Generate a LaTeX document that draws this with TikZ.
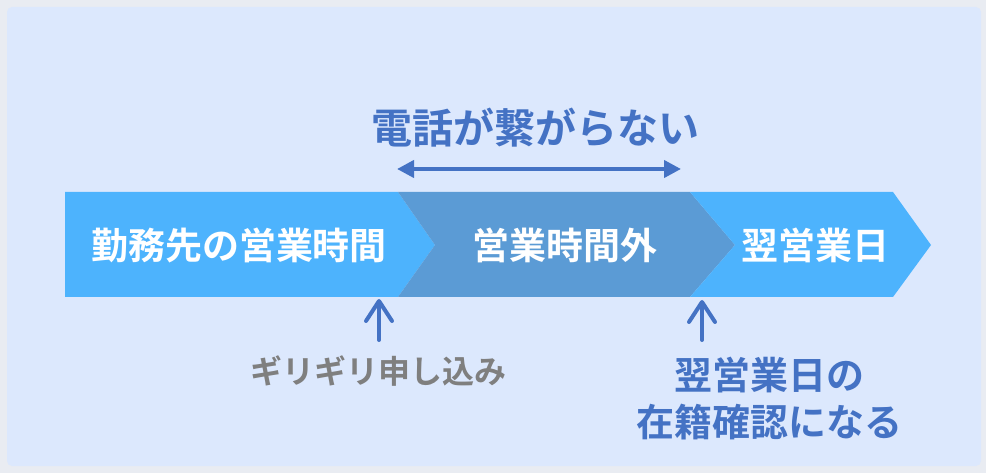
\documentclass[tikz,border=0pt]{standalone}
\usepackage{fontspec}
\setmainfont{Noto Sans CJK JP}[BoldFont={Noto Sans CJK JP Bold}]
\usetikzlibrary{arrows.meta}
\definecolor{outerbg}{HTML}{E9ECF2}
\definecolor{innerbg}{HTML}{DCE8FD}
\definecolor{lightc}{HTML}{4DB3FD}
\definecolor{midc}{HTML}{5B9BD5}
\definecolor{callblue}{HTML}{4472C4}
\definecolor{notegray}{HTML}{7F7F7F}
\tikzset{
  boxtext/.style={text=white, font=\bfseries\fontsize{37}{40}\selectfont, inner sep=0pt},
  notetext/.style={inner sep=0pt, align=center},
  uparrow/.style={callblue, line width=4pt, line cap=round, -{Straight Barb[round,length=20pt,width=26pt]}}
}
\begin{document}
\begin{tikzpicture}[x=1pt, y=-1pt]
  % background
  \fill[outerbg] (0, 0) rectangle (986, 473);
  \fill[innerbg, rounded corners=5pt] (7, 7) rectangle (981, 466);
  % chevrons
  \fill[lightc] (65, 192) -- (398, 192) -- (435, 245) -- (398, 297) -- (65, 297) -- cycle;
  \fill[midc] (398, 192) -- (690, 192) -- (735, 245) -- (690, 297) -- (398, 297) -- (435, 245) -- cycle;
  \fill[lightc] (690, 192) -- (893, 192) -- (931, 245) -- (893, 297) -- (690, 297) -- (735, 245) -- cycle;
  \node[boxtext] (work) at (239, 245) {勤務先の営業時間};
  \node[boxtext] (after) at (565, 245) {営業時間外};
  \node[boxtext] (next) at (815, 245) {翌営業日};
  % top: no call
  \node[text=callblue, font=\bfseries\fontsize{41}{44}\selectfont, inner sep=0pt] (nocall) at (535, 128) {電話が繋がらない};
  \coordinate (callL) at (397, 169);
  \coordinate (callR) at (681, 169);
  \draw[callblue, line width=4pt, {Triangle[length=17pt,width=17pt]}-{Triangle[length=17pt,width=17pt]}] (callL) -- (callR);
  % bottom notes
  \node[notetext, text=notegray, font=\bfseries\fontsize{32}{40}\selectfont] (late) at (378, 371) {ギリギリ申し込み};
  \node[notetext, text=callblue, font=\bfseries\fontsize{38}{47}\selectfont] (check) at (769, 399) {翌営業日の\\在籍確認になる};
  \coordinate (lateFrom) at (379, 340);
  \coordinate (lateTo) at (379, 299);
  \coordinate (checkFrom) at (702, 340);
  \coordinate (checkTo) at (702, 300);
  \draw[uparrow] (lateFrom) -- (lateTo);
  \draw[uparrow] (checkFrom) -- (checkTo);
\end{tikzpicture}
\end{document}
